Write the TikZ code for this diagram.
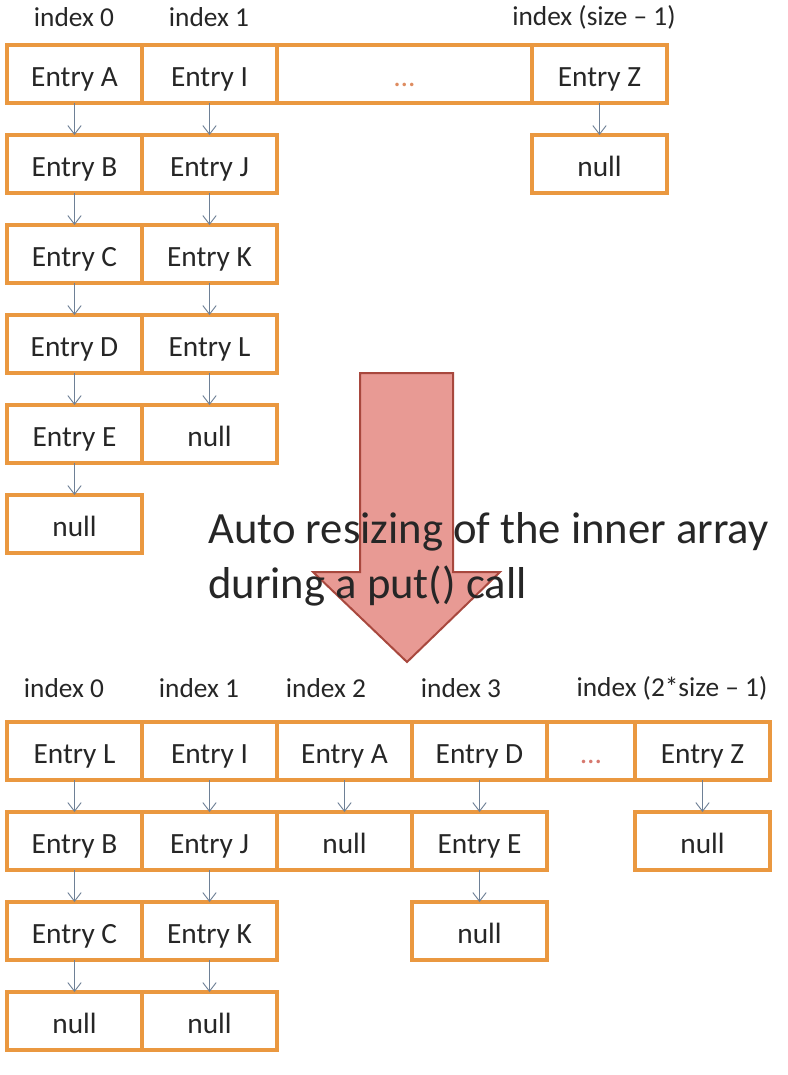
\documentclass[tikz,border=0pt]{standalone}
\usepackage{fontspec}
\setmainfont{Carlito}
\usetikzlibrary{positioning, arrows.meta}
\definecolor{cellorange}{RGB}{234,152,64}
\definecolor{linkgray}{RGB}{110,128,150}
\definecolor{dotsorange}{RGB}{222,140,96}
\definecolor{dotsred}{RGB}{214,120,110}
\definecolor{resizefill}{RGB}{232,154,148}
\definecolor{resizedraw}{RGB}{168,72,62}

\begin{document}
\begin{tikzpicture}[x=0.75pt, y=-0.75pt,
    cell/.style={rectangle, draw=cellorange, line width=2.4pt, minimum width=101.25pt, minimum height=43.5pt, inner sep=0pt, outer sep=0pt, font=\fontsize{22}{26}\selectfont, text height=18pt, text depth=0pt, text=black!85},
    widecell/.style={cell, minimum width=191.25pt},
    narrowcell/.style={cell, minimum width=66pt},
    idx/.style={font=\fontsize{20.5}{24}\selectfont, text=black!85},
    link/.style={draw=linkgray, line width=0.7pt, -{Straight Barb[length=6.5pt,width=10pt]}},
    msg/.style={font=\fontsize{33.5}{40}\selectfont, text=black!85, inner sep=0pt, anchor=base west}
]
\useasboundingbox (0,0) rectangle (788,1075);

% before resizing
\node[idx] (i0) at (74,17) {index 0};
\node[idx] (i1) at (209,17) {index 1};
\node[idx] (iz) at (594,17) {index (size -- 1)};

\node[cell] (a0) at (74.5,74) {Entry A};
\node[cell, right=0pt of a0] (a1) {Entry I};
\node[widecell, right=0pt of a1] (a2) {\textcolor{dotsorange}{\dots}};
\node[cell, right=0pt of a2] (a3) {Entry Z};

\node[cell, below=24pt of a0] (b0) {Entry B};
\node[cell, below=24pt of b0] (c0) {Entry C};
\node[cell, below=24pt of c0] (d0) {Entry D};
\node[cell, below=24pt of d0] (e0) {Entry E};
\node[cell, below=24pt of e0] (f0) {null};

\node[cell, below=24pt of a1] (b1) {Entry J};
\node[cell, below=24pt of b1] (c1) {Entry K};
\node[cell, below=24pt of c1] (d1) {Entry L};
\node[cell, below=24pt of d1] (e1) {null};

\node[cell, below=24pt of a3] (b3) {null};

\draw[link] (a0) -- (b0);
\draw[link] (b0) -- (c0);
\draw[link] (c0) -- (d0);
\draw[link] (d0) -- (e0);
\draw[link] (e0) -- (f0);
\draw[link] (a1) -- (b1);
\draw[link] (b1) -- (c1);
\draw[link] (c1) -- (d1);
\draw[link] (d1) -- (e1);
\draw[link] (a3) -- (b3);

% the big arrow
\draw[draw=resizedraw, fill=resizefill, line width=1.5pt] (360,373) -- (453,373) -- (453,572) -- (500,572) -- (407,662) -- (313,572) -- (360,572) -- cycle;
\node[msg] (msg1) at (208,543) {Auto resizing of the inner array};
\node[msg] (msg2) at (208,598) {during a put() call};

% after resizing
\node[idx] (j0) at (64,688) {index 0};
\node[idx] (j1) at (199,688) {index 1};
\node[idx] (j2) at (326,688) {index 2};
\node[idx] (j3) at (461,688) {index 3};
\node[idx] (jz) at (672,688) {index (2*size -- 1)};

\node[cell] (p0) at (74.5,751) {Entry L};
\node[cell, right=0pt of p0] (p1) {Entry I};
\node[cell, right=0pt of p1] (p2) {Entry A};
\node[cell, right=0pt of p2] (p3) {Entry D};
\node[narrowcell, right=0pt of p3] (p4) {\textcolor{dotsred}{\dots}};
\node[cell, right=0pt of p4] (p5) {Entry Z};

\node[cell, below=24pt of p0] (q0) {Entry B};
\node[cell, below=24pt of q0] (r0) {Entry C};
\node[cell, below=24pt of r0] (s0) {null};
\node[cell, below=24pt of p1] (q1) {Entry J};
\node[cell, below=24pt of q1] (r1) {Entry K};
\node[cell, below=24pt of r1] (s1) {null};
\node[cell, below=24pt of p2] (q2) {null};
\node[cell, below=24pt of p3] (q3) {Entry E};
\node[cell, below=24pt of q3] (r3) {null};
\node[cell, below=24pt of p5] (q5) {null};

\draw[link] (p0) -- (q0);
\draw[link] (q0) -- (r0);
\draw[link] (r0) -- (s0);
\draw[link] (p1) -- (q1);
\draw[link] (q1) -- (r1);
\draw[link] (r1) -- (s1);
\draw[link] (p2) -- (q2);
\draw[link] (p3) -- (q3);
\draw[link] (q3) -- (r3);
\draw[link] (p5) -- (q5);
\end{tikzpicture}
\end{document}
